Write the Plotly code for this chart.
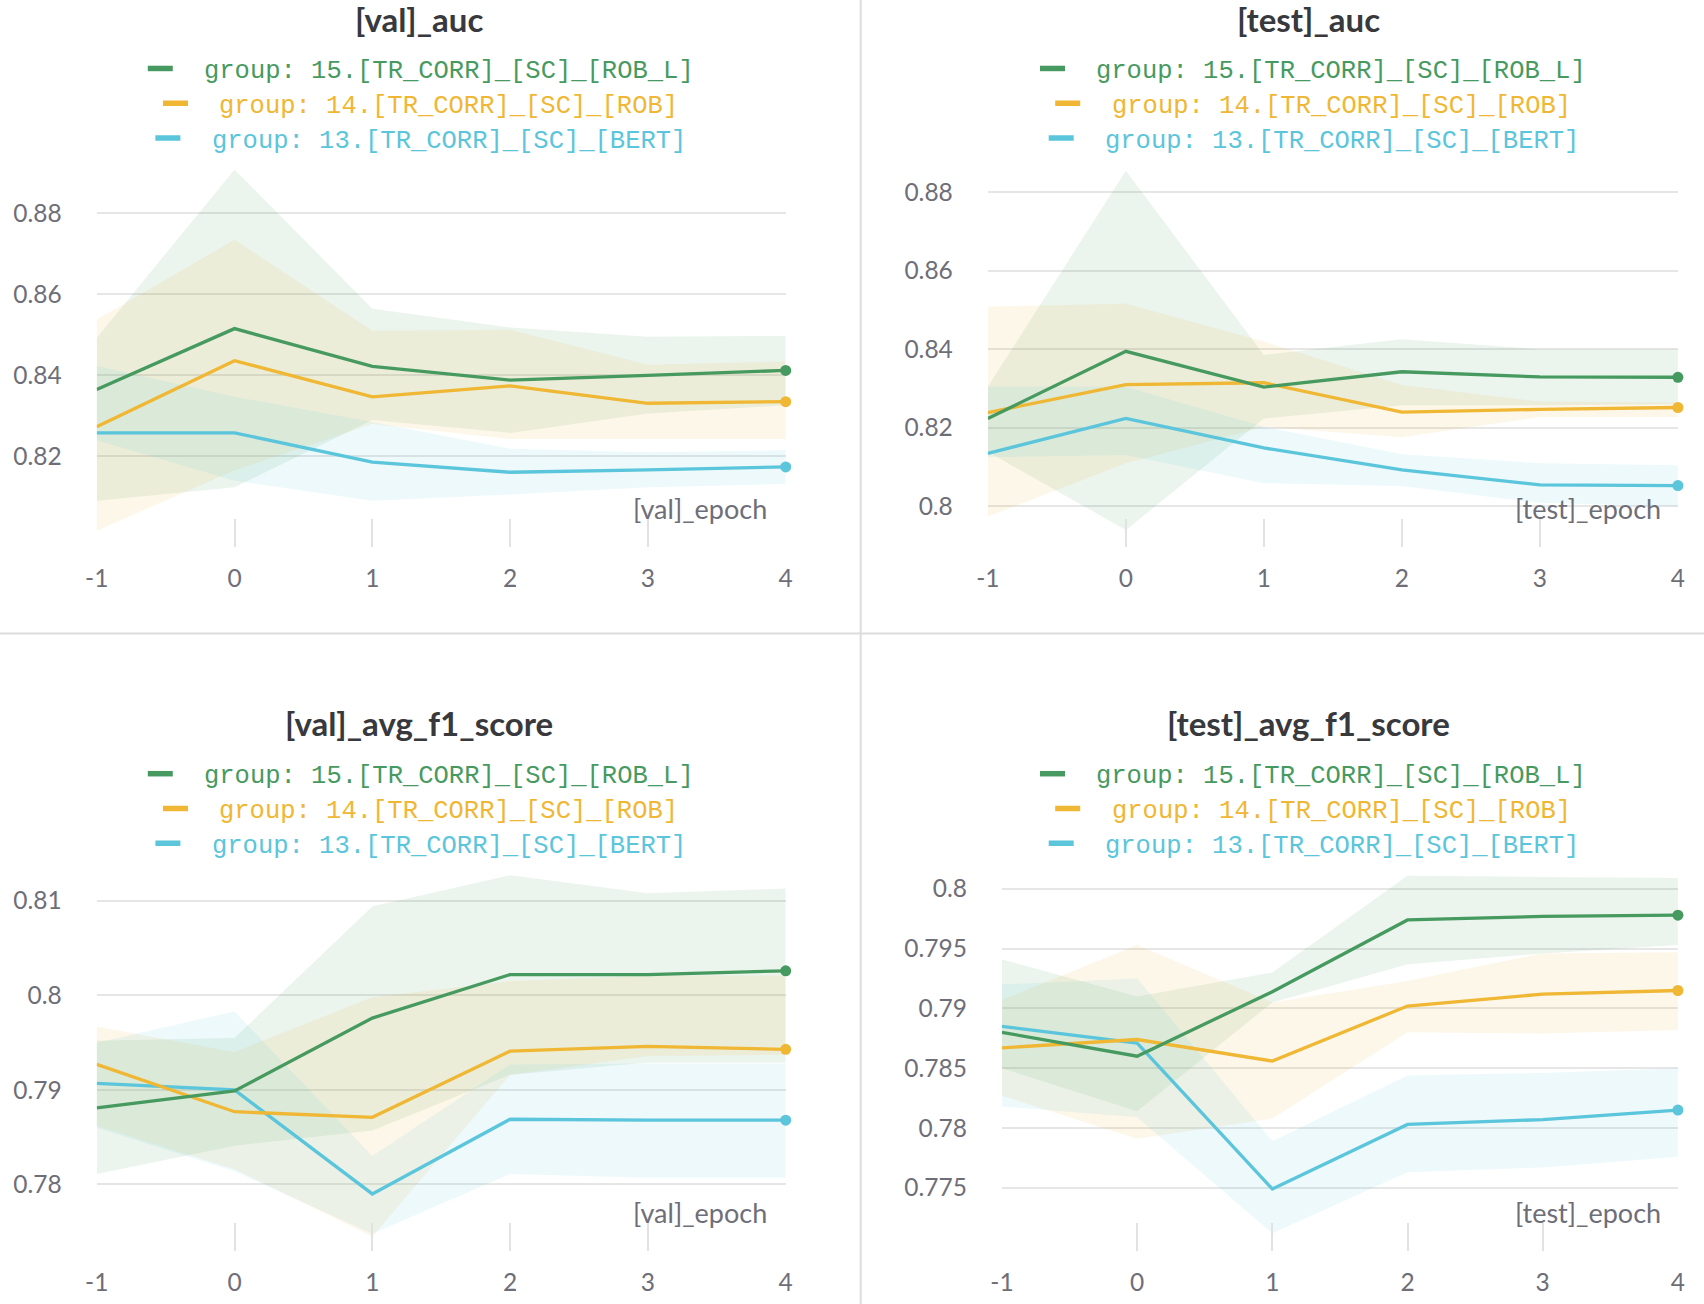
import plotly.graph_objects as go

# ---------------- data ----------------
epochs = [-1, 0, 1, 2, 3, 4]
x_tick_labels = ["-1", "0", "1", "2", "3", "4"]

group_names = [
    "group: 15.[TR_CORR]_[SC]_[ROB_L]",
    "group: 14.[TR_CORR]_[SC]_[ROB]",
    "group: 13.[TR_CORR]_[SC]_[BERT]",
]
line_colors = ["#479a5f", "#efb733", "#5ac5db"]
band_colors = ["rgba(71,154,95,0.11)", "rgba(239,183,51,0.11)", "rgba(90,197,219,0.11)"]

# [val]_auc
val_auc_robl_mean = [0.8365, 0.8515, 0.8422, 0.8388, 0.8400, 0.8412]
val_auc_robl_lo = [0.8091, 0.8124, 0.8290, 0.8258, 0.8306, 0.8326]
val_auc_robl_hi = [0.8492, 0.8907, 0.8564, 0.8518, 0.8495, 0.8497]
val_auc_rob_mean = [0.8273, 0.8436, 0.8347, 0.8374, 0.8331, 0.8335]
val_auc_rob_lo = [0.8017, 0.8166, 0.8280, 0.8243, 0.8243, 0.8243]
val_auc_rob_hi = [0.8537, 0.8734, 0.8510, 0.8512, 0.8426, 0.8434]
val_auc_bert_mean = [0.8258, 0.8258, 0.8186, 0.8161, 0.8167, 0.8174]
val_auc_bert_lo = [0.8240, 0.8140, 0.8091, 0.8106, 0.8124, 0.8132]
val_auc_bert_hi = [0.8423, 0.8347, 0.8285, 0.8219, 0.8210, 0.8215]

# [test]_auc
test_auc_robl_mean = [0.8224, 0.8395, 0.8304, 0.8343, 0.8330, 0.8329]
test_auc_robl_lo = [0.8139, 0.7940, 0.8224, 0.8258, 0.8258, 0.8260]
test_auc_robl_hi = [0.8305, 0.8855, 0.8386, 0.8426, 0.8400, 0.8400]
test_auc_rob_mean = [0.8239, 0.8310, 0.8315, 0.8240, 0.8247, 0.8252]
test_auc_rob_lo = [0.7974, 0.8110, 0.8203, 0.8176, 0.8228, 0.8228]
test_auc_rob_hi = [0.8509, 0.8516, 0.8420, 0.8309, 0.8267, 0.8265]
test_auc_bert_mean = [0.8135, 0.8224, 0.8149, 0.8093, 0.8055, 0.8053]
test_auc_bert_lo = [0.8125, 0.8131, 0.8059, 0.8052, 0.8009, 0.8000]
test_auc_bert_hi = [0.8305, 0.8305, 0.8203, 0.8133, 0.8110, 0.8105]

# [val]_avg_f1_score
val_f1_robl_mean = [0.7881, 0.7899, 0.7976, 0.8022, 0.8022, 0.8026]
val_f1_robl_lo = [0.7811, 0.7841, 0.7857, 0.7916, 0.7929, 0.7929]
val_f1_robl_hi = [0.7952, 0.7955, 0.8094, 0.8127, 0.8108, 0.8113]
val_f1_rob_mean = [0.7927, 0.7877, 0.7871, 0.7941, 0.7946, 0.7943]
val_f1_rob_lo = [0.7862, 0.7816, 0.7745, 0.7916, 0.7936, 0.7937]
val_f1_rob_hi = [0.7967, 0.7940, 0.7998, 0.8015, 0.8021, 0.8021]
val_f1_bert_mean = [0.7907, 0.7900, 0.7790, 0.7869, 0.7868, 0.7868]
val_f1_bert_lo = [0.7860, 0.7814, 0.7748, 0.7811, 0.7807, 0.7807]
val_f1_bert_hi = [0.7950, 0.7983, 0.7830, 0.7927, 0.7928, 0.7928]

# [test]_avg_f1_score
test_f1_robl_mean = [0.7880, 0.7860, 0.7914, 0.7974, 0.7977, 0.7978]
test_f1_robl_lo = [0.7850, 0.7814, 0.7905, 0.7937, 0.7946, 0.7953]
test_f1_robl_hi = [0.7941, 0.7910, 0.7930, 0.8011, 0.8010, 0.8009]
test_f1_rob_mean = [0.7867, 0.7874, 0.7856, 0.7902, 0.7912, 0.7915]
test_f1_rob_lo = [0.7827, 0.7791, 0.7808, 0.7880, 0.7879, 0.7882]
test_f1_rob_hi = [0.7907, 0.7953, 0.7905, 0.7923, 0.7946, 0.7947]
test_f1_bert_mean = [0.7885, 0.7871, 0.7749, 0.7803, 0.7807, 0.7815]
test_f1_bert_lo = [0.7818, 0.7809, 0.7712, 0.7763, 0.7767, 0.7776]
test_f1_bert_hi = [0.7920, 0.7925, 0.7789, 0.7844, 0.7846, 0.7850]

auc_ticks_val = [0.82, 0.84, 0.86, 0.88]
auc_ticks_val_text = ["0.82", "0.84", "0.86", "0.88"]
auc_ticks_test = [0.80, 0.82, 0.84, 0.86, 0.88]
auc_ticks_test_text = ["0.8", "0.82", "0.84", "0.86", "0.88"]
f1_ticks_val = [0.78, 0.79, 0.80, 0.81]
f1_ticks_val_text = ["0.78", "0.79", "0.8", "0.81"]
f1_ticks_test = [0.775, 0.78, 0.785, 0.79, 0.795, 0.80]
f1_ticks_test_text = ["0.775", "0.78", "0.785", "0.79", "0.795", "0.8"]

# ---------------- layout helpers ----------------
W0, H0 = 1568, 1200   # measuring frame
W, H = 1704, 1304


def px(x):
    return x / W0


def py(y):
    return 1 - y / H0


panels = [
    dict(title="[val]_auc", xlabel="[val]_epoch",
         mean=[val_auc_robl_mean, val_auc_rob_mean, val_auc_bert_mean],
         lo=[val_auc_robl_lo, val_auc_rob_lo, val_auc_bert_lo],
         hi=[val_auc_robl_hi, val_auc_rob_hi, val_auc_bert_hi],
         tv=auc_ticks_val, tt=auc_ticks_val_text, yr=[0.79777, 0.89045],
         xd=[px(89), px(723)], yd=[py(503), py(157)],
         tcx=386, ty=17.5, leg_y=66, leg_x=[186, 200, 193], xl_x=708, xl_y=468),
    dict(title="[test]_auc", xlabel="[test]_epoch",
         mean=[test_auc_robl_mean, test_auc_rob_mean, test_auc_bert_mean],
         lo=[test_auc_robl_lo, test_auc_rob_lo, test_auc_bert_lo],
         hi=[test_auc_robl_hi, test_auc_rob_hi, test_auc_bert_hi],
         tv=auc_ticks_test, tt=auc_ticks_test_text, yr=[0.78976, 0.88555],
         xd=[px(909), px(1544)], yd=[py(503), py(157)],
         tcx=1204, ty=17.5, leg_y=66, leg_x=[1007, 1021, 1015], xl_x=1530, xl_y=468),
    dict(title="[val]_avg_f1_score", xlabel="[val]_epoch",
         mean=[val_f1_robl_mean, val_f1_rob_mean, val_f1_bert_mean],
         lo=[val_f1_robl_lo, val_f1_rob_lo, val_f1_bert_lo],
         hi=[val_f1_robl_hi, val_f1_rob_hi, val_f1_bert_hi],
         tv=f1_ticks_val, tt=f1_ticks_val_text, yr=[0.77299, 0.81276],
         xd=[px(89), px(723)], yd=[py(1151), py(805)],
         tcx=386, ty=665, leg_y=715, leg_x=[186, 200, 193], xl_x=708, xl_y=1116),
    dict(title="[test]_avg_f1_score", xlabel="[test]_epoch",
         mean=[test_f1_robl_mean, test_f1_rob_mean, test_f1_bert_mean],
         lo=[test_f1_robl_lo, test_f1_rob_lo, test_f1_bert_lo],
         hi=[test_f1_robl_hi, test_f1_rob_hi, test_f1_bert_hi],
         tv=f1_ticks_test, tt=f1_ticks_test_text, yr=[0.76973, 0.80118],
         xd=[px(922), px(1544)], yd=[py(1151), py(805)],
         tcx=1204, ty=665, leg_y=715, leg_x=[1007, 1021, 1015], xl_x=1530, xl_y=1116),
]

SANS = "Lato, Noto Sans, sans-serif"
MONO = "Liberation Mono, DejaVu Sans Mono, monospace"
GRAY = "#6e6e78"
TICK_FONT = dict(family=SANS, size=24.5, color=GRAY)

fig = go.Figure()
annotations = []
shapes = []

for i, p in enumerate(panels):
    n = "" if i == 0 else str(i + 1)
    xa, ya = "x" + n, "y" + n
    # min/max bands
    for g in range(3):
        fig.add_trace(go.Scatter(x=epochs, y=p["lo"][g], xaxis=xa, yaxis=ya, mode="lines",
                                 line=dict(width=0, color=band_colors[g]), showlegend=False,
                                 hoverinfo="skip"))
        fig.add_trace(go.Scatter(x=epochs, y=p["hi"][g], xaxis=xa, yaxis=ya, mode="lines",
                                 line=dict(width=0, color=band_colors[g]), fill="tonexty",
                                 fillcolor=band_colors[g], showlegend=False, hoverinfo="skip"))
    # mean lines with end dots
    for g in [2, 1, 0]:
        fig.add_trace(go.Scatter(x=epochs, y=p["mean"][g], xaxis=xa, yaxis=ya, mode="lines",
                                 line=dict(width=3.3, color=line_colors[g]), showlegend=False,
                                 name=group_names[g]))
        fig.add_trace(go.Scatter(x=epochs[-1:], y=p["mean"][g][-1:], xaxis=xa, yaxis=ya,
                                 mode="markers", marker=dict(size=11, color=line_colors[g]),
                                 cliponaxis=False, showlegend=False, hoverinfo="skip"))

    fig.layout["xaxis" + n] = dict(
        domain=p["xd"], anchor=ya, range=[-1, 4], tickvals=epochs, ticktext=x_tick_labels,
        ticks="inside", ticklen=28, tickwidth=2, tickcolor="#e2e2e2", showgrid=False,
        zeroline=False, showline=False, tickfont=TICK_FONT, ticklabelstandoff=15,
        automargin=False, fixedrange=True)
    fig.layout["yaxis" + n] = dict(
        domain=p["yd"], anchor=xa, range=p["yr"], tickvals=p["tv"], ticktext=p["tt"],
        ticks="", showgrid=True, gridcolor="#e6e6e6", gridwidth=1.6, zeroline=False,
        showline=False, tickfont=TICK_FONT, ticklabelstandoff=34, automargin=False,
        fixedrange=True)

    # panel title
    annotations.append(dict(text="<b>" + p["title"] + "</b>", x=px(p["tcx"]), y=py(p["ty"]),
                            xref="paper", yref="paper", xanchor="center", yanchor="middle",
                            showarrow=False, font=dict(family=SANS, size=33, color="#38393d")))
    # legend rows (dash + text), each row centred on its own
    for g in range(3):
        ry = p["leg_y"] + 32 * g
        tx = p["leg_x"][g]
        annotations.append(dict(text=group_names[g], x=px(tx), y=py(ry), xref="paper",
                                yref="paper", xanchor="left", yanchor="middle", showarrow=False,
                                font=dict(family=MONO, size=25.5, color=line_colors[g])))
        shapes.append(dict(type="line", xref="paper", yref="paper", x0=px(tx - 50),
                           x1=px(tx - 27), y0=py(ry - 3), y1=py(ry - 3),
                           line=dict(color=line_colors[g], width=5.5)))
    # x-axis title inside the plot, bottom right
    annotations.append(dict(text=p["xlabel"], x=px(p["xl_x"]), y=py(p["xl_y"]), xref="paper",
                            yref="paper", xanchor="right", yanchor="middle", showarrow=False,
                            font=dict(family=SANS, size=27, color=GRAY)))

# panel dividers
shapes.append(dict(type="line", xref="paper", yref="paper", x0=px(792), x1=px(792), y0=0, y1=1,
                   line=dict(color="#dcdcdc", width=2)))
shapes.append(dict(type="line", xref="paper", yref="paper", x0=0, x1=1, y0=py(583), y1=py(583),
                   line=dict(color="#dcdcdc", width=2)))

fig.update_layout(width=W, height=H,
                  margin=dict(l=0, r=0, t=0, b=0, pad=0, autoexpand=False),
                  paper_bgcolor="white", plot_bgcolor="white",
                  annotations=annotations, shapes=shapes, showlegend=False)

fig.write_html("out.html",
               config={"displayModeBar": False},
               post_script="document.body.style.margin='0px';"
                           "document.body.style.overflow='hidden';")
